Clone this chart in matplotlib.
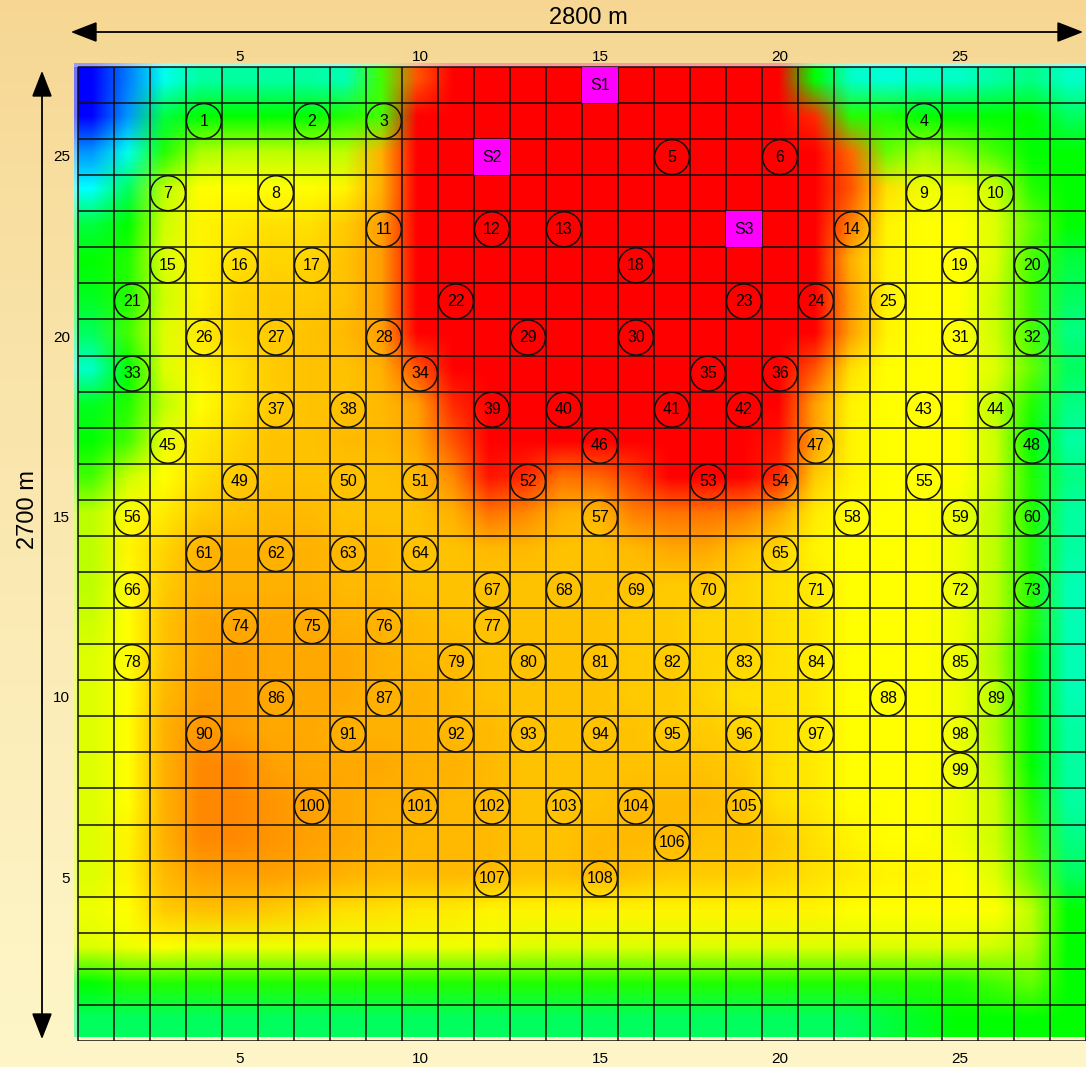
import numpy as np
import matplotlib
matplotlib.use("Agg")
import matplotlib.pyplot as plt
from matplotlib.colors import LinearSegmentedColormap, Normalize, to_rgb
from matplotlib.patches import Circle, Rectangle, FancyArrowPatch

plt.rcParams['font.family'] = ['Liberation Sans', 'DejaVu Sans']

# level read off the colour of each 100 m cell, top row (27) first, columns 1..28
# 0 blue, 1 cyan, 2 green, 3 yellow, 4 orange, 5 red
field_rows = [
    [0.0, 0.5, 1.1, 1.5, 1.5, 1.5, 1.5, 1.4, 2.2, 4.6, 5, 5, 5, 5, 5, 5, 5, 5, 5, 5.0, 2.0, 1.3, 1.2, 1.3, 1.3, 1.5, 1.6, 1.3],
    [0.0, 0.6, 1.8, 2.0, 2.0, 2.0, 2.0, 2.1, 2.2, 5, 5, 5, 5, 5, 5, 5, 5, 5, 5, 5, 4.8, 2.1, 2.1, 2.0, 2.0, 2.0, 2.0, 1.7],
    [0.6, 1.1, 2.1, 2.5, 2.6, 2.6, 2.6, 2.6, 3.8, 5, 5, 5, 5, 5, 5, 5, 5, 5, 5, 5, 5, 4.5, 2.3, 2.5, 2.4, 2.2, 2.0, 2.0],
    [1.0, 1.7, 2.6, 3.0, 3.0, 3.0, 3.0, 3.1, 3.8, 5, 5, 5, 5, 5, 5, 5, 5, 5, 5, 5, 5, 4.6, 3.3, 2.9, 2.9, 2.7, 2.1, 2.0],
    [1.8, 2.0, 2.7, 3.1, 3.2, 3.3, 3.3, 3.5, 4.0, 5, 5, 5, 5, 5, 5, 5, 5, 5, 5, 5, 5, 4.3, 3.1, 3.0, 3.0, 2.8, 2.3, 2.0],
    [2.0, 2.1, 2.8, 3.1, 3.3, 3.4, 3.4, 3.6, 4.0, 5, 5, 5, 5, 5, 5, 5, 5, 5, 5, 5, 5, 3.8, 3.1, 3.0, 3.0, 2.8, 2.2, 1.8],
    [1.9, 2.1, 2.7, 3.1, 3.4, 3.5, 3.5, 3.6, 4.0, 5, 5, 5, 5, 5, 5, 5, 5, 5, 5, 5, 5, 4.0, 3.1, 3.0, 3.0, 2.7, 2.2, 1.7],
    [1.7, 2.2, 2.8, 3.2, 3.4, 3.5, 3.6, 3.7, 4.0, 5, 5, 5, 5, 5, 5, 5, 5, 5, 5, 5, 5, 4.0, 3.1, 3.0, 3.0, 2.7, 2.2, 1.6],
    [1.3, 2.0, 2.8, 3.1, 3.3, 3.5, 3.6, 3.6, 3.8, 4.6, 5, 5, 5, 5, 5, 5, 5, 5, 5, 5, 4.6, 3.3, 3.0, 3.0, 3.0, 2.8, 2.3, 1.7],
    [1.9, 2.1, 2.6, 3.0, 3.3, 3.5, 3.6, 3.6, 3.7, 4.0, 4.8, 5, 5, 5, 5, 5, 5, 5, 5, 5, 4.0, 3.1, 3.0, 3.0, 3.0, 2.6, 2.1, 1.6],
    [2.0, 2.2, 2.9, 3.2, 3.4, 3.6, 3.6, 3.7, 3.7, 3.9, 4.6, 5, 5, 5, 5, 5, 5, 5, 5, 4.9, 4.0, 3.1, 3.0, 3.0, 3.0, 2.7, 2.0, 1.5],
    [2.2, 2.7, 3.0, 3.3, 3.5, 3.6, 3.6, 3.6, 3.6, 3.7, 4.2, 4.9, 4.8, 4.4, 4.5, 4.7, 5, 5, 5, 4.8, 3.5, 3.1, 3.0, 3.0, 3.0, 2.7, 2.1, 1.6],
    [2.6, 3.0, 3.2, 3.5, 3.6, 3.7, 3.7, 3.6, 3.6, 3.6, 3.8, 4.4, 4.2, 3.8, 3.7, 4.3, 4.4, 4.4, 4.3, 3.9, 3.2, 3.0, 3.0, 3.0, 2.9, 2.6, 2.1, 1.5],
    [2.6, 3.1, 3.4, 3.8, 3.8, 3.8, 3.8, 3.7, 3.7, 3.6, 3.6, 3.7, 3.7, 3.6, 3.6, 3.7, 3.9, 3.9, 3.6, 3.4, 3.1, 3.0, 3.0, 3.0, 2.9, 2.6, 2.1, 1.5],
    [2.6, 3.0, 3.5, 3.8, 3.8, 3.8, 3.8, 3.7, 3.7, 3.6, 3.6, 3.6, 3.6, 3.6, 3.6, 3.6, 3.5, 3.5, 3.4, 3.3, 3.2, 3.0, 3.0, 3.0, 2.9, 2.6, 2.1, 1.4],
    [2.7, 3.0, 3.6, 3.9, 3.9, 3.9, 3.9, 3.8, 3.8, 3.7, 3.6, 3.6, 3.6, 3.6, 3.6, 3.5, 3.5, 3.4, 3.4, 3.3, 3.2, 3.0, 3.0, 3.0, 2.9, 2.6, 2.1, 1.4],
    [2.8, 3.0, 3.6, 3.9, 4.0, 3.9, 3.9, 3.9, 3.8, 3.7, 3.7, 3.6, 3.6, 3.6, 3.6, 3.5, 3.5, 3.4, 3.4, 3.3, 3.2, 3.0, 3.0, 3.0, 2.9, 2.5, 2.0, 1.4],
    [2.8, 3.0, 3.7, 4.0, 4.0, 3.9, 3.9, 3.9, 3.8, 3.8, 3.7, 3.6, 3.6, 3.6, 3.6, 3.5, 3.5, 3.4, 3.3, 3.3, 3.2, 3.0, 3.0, 3.0, 2.9, 2.6, 2.0, 1.4],
    [2.8, 3.0, 3.8, 4.1, 4.0, 3.9, 3.9, 3.8, 3.8, 3.8, 3.7, 3.7, 3.6, 3.6, 3.6, 3.6, 3.5, 3.5, 3.4, 3.3, 3.2, 3.0, 3.0, 3.0, 2.9, 2.5, 2.0, 1.5],
    [2.8, 3.0, 3.8, 4.2, 4.2, 4.0, 3.9, 3.9, 3.9, 3.8, 3.8, 3.7, 3.6, 3.6, 3.6, 3.6, 3.6, 3.6, 3.5, 3.3, 3.2, 3.0, 3.0, 3.0, 2.9, 2.6, 2.0, 1.5],
    [2.8, 3.0, 3.8, 4.2, 4.2, 4.1, 4.0, 3.9, 3.8, 3.8, 3.7, 3.7, 3.6, 3.6, 3.6, 3.7, 3.7, 3.7, 3.6, 3.3, 3.2, 3.0, 3.0, 3.0, 2.9, 2.7, 2.1, 1.5],
    [2.8, 3.1, 3.8, 4.2, 4.2, 4.1, 4.0, 3.9, 3.8, 3.7, 3.7, 3.7, 3.6, 3.6, 3.7, 3.7, 3.7, 3.6, 3.6, 3.5, 3.3, 3.1, 3.0, 3.0, 2.9, 2.7, 2.2, 1.6],
    [2.8, 3.1, 3.7, 4.0, 4.0, 4.0, 3.9, 3.8, 3.7, 3.7, 3.7, 3.7, 3.6, 3.6, 3.7, 3.6, 3.5, 3.5, 3.5, 3.4, 3.3, 3.2, 3.1, 3.1, 3.0, 2.8, 2.3, 1.7],
    [2.9, 3.0, 3.5, 3.6, 3.6, 3.5, 3.4, 3.3, 3.3, 3.2, 3.2, 3.1, 3.1, 3.1, 3.1, 3.1, 3.1, 3.1, 3.1, 3.1, 3.1, 3.0, 3.0, 3.0, 3.0, 3.0, 2.6, 2.0],
    [2.8, 2.9, 3.0, 2.9, 2.9, 2.9, 2.9, 2.9, 2.9, 2.9, 2.9, 2.9, 2.8, 2.8, 2.8, 2.8, 2.8, 2.8, 2.8, 2.8, 2.8, 2.8, 2.8, 2.8, 2.8, 2.7, 2.5, 2.0],
    [2.0, 2.1, 2.1, 2.1, 2.1, 2.1, 2.1, 2.1, 2.1, 2.1, 2.1, 2.1, 2.1, 2.1, 2.1, 2.1, 2.1, 2.1, 2.1, 2.1, 2.1, 2.1, 2.1, 2.1, 2.1, 2.2, 2.3, 2.0],
    [1.7, 1.7, 1.7, 1.7, 1.7, 1.7, 1.7, 1.7, 1.7, 1.7, 1.7, 1.7, 1.7, 1.7, 1.7, 1.7, 1.7, 1.7, 1.7, 1.7, 1.7, 1.7, 1.8, 1.9, 2.0, 2.0, 2.0, 2.0],
]

# monitoring points 1..108 (cell column, cell row)
well_cols = [4, 7, 9, 24, 17, 20, 3, 6, 24, 26, 9, 12, 14, 22, 3, 5, 7, 16, 25, 27,
             2, 11, 19, 21, 23, 4, 6, 9, 13, 16, 25, 27, 2, 10, 18, 20,
             6, 8, 12, 14, 17, 19, 24, 26, 3, 15, 21, 27, 5, 8, 10, 13, 18, 20, 24,
             2, 15, 22, 25, 27, 4, 6, 8, 10, 20, 2, 12, 14, 16, 18, 21, 25, 27,
             5, 7, 9, 12, 2, 11, 13, 15, 17, 19, 21, 25, 6, 9, 23, 26,
             4, 8, 11, 13, 15, 17, 19, 21, 25, 25, 7, 10, 12, 14, 16, 19, 17, 12, 15]
well_rows = [26, 26, 26, 26, 25, 25, 24, 24, 24, 24, 23, 23, 23, 23, 22, 22, 22, 22, 22, 22,
             21, 21, 21, 21, 21, 20, 20, 20, 20, 20, 20, 20, 19, 19, 19, 19,
             18, 18, 18, 18, 18, 18, 18, 18, 17, 17, 17, 17, 16, 16, 16, 16, 16, 16, 16,
             15, 15, 15, 15, 15, 14, 14, 14, 14, 14, 13, 13, 13, 13, 13, 13, 13, 13,
             12, 12, 12, 12, 11, 11, 11, 11, 11, 11, 11, 11, 10, 10, 10, 10,
             9, 9, 9, 9, 9, 9, 9, 9, 9, 8, 7, 7, 7, 7, 7, 7, 6, 5, 5]

src_names = ['S1', 'S2', 'S3']
src_cols = [15, 12, 19]
src_rows = [27, 25, 23]

x_ticks = [5, 10, 15, 20, 25]
y_ticks = [5, 10, 15, 20, 25]
n_cols, n_rows = 28, 27

level_stops = [0, 1, 1.5, 2, 2.5, 3, 3.5, 4, 4.5, 5]
level_colors = ['#0000ff', '#00ffff', '#00ffa0', '#00ff00', '#aaff00',
                '#ffff00', '#ffcc00', '#ffa000', '#ff6a00', '#ff0000']
cmap = LinearSegmentedColormap.from_list(
    'plume', [(v / 5.0, c) for v, c in zip(level_stops, level_colors)])

W, H = 1086, 1067
fig = plt.figure(figsize=(W / 100, H / 100), dpi=100)

# map-like tan background
bg = fig.add_axes([0, 0, 1, 1], zorder=0)
t = np.linspace(0, 1, 300) ** 0.8
top, bot = np.array(to_rgb('#f6d692')), np.array(to_rgb('#fef6c8'))
grad = top[None, :] * (1 - t[:, None]) + bot[None, :] * t[:, None]
bg.imshow(grad[:, None, :], aspect='auto', extent=[0, 1, 0, 1])
bg.set_xlim(0, 1)
bg.set_ylim(0, 1)
bg.axis('off')

# main grid axes, pixel placement from the reference
x0, x1 = 0.39, 28.5
y0, y1 = 0.5, 27.61
left, right = 74, 1086
top_px, bot_px = 63, 1041
ax = fig.add_axes([left / W, (H - bot_px) / H, (right - left) / W, (bot_px - top_px) / H], zorder=1)
ax.patch.set_alpha(0)
ax.set_xlim(x0, x1)
ax.set_ylim(y0, y1)
for s in ax.spines.values():
    s.set_visible(False)
ax.set_xticks([])
ax.set_yticks([])

field = np.array(field_rows, dtype=float)
rgba = cmap(Normalize(0, 5)(field))
ax.imshow(rgba, extent=[0.39, 28.5, 0.61, 27.61], origin='upper',
          interpolation='bilinear', aspect='auto', zorder=1)

# whitish frame at top and left of the image
ax.add_patch(Rectangle((0.39, 27.5), 28.2, 0.12, color='white', alpha=0.6, lw=0, zorder=2))
ax.add_patch(Rectangle((0.39, 0.61), 0.11, 26.9, color='white', alpha=0.45, lw=0, zorder=2))

# grid lines
ax.vlines(np.arange(0.5, n_cols + 1), 0.5, n_rows + 0.5, colors='#111111', lw=1.1, zorder=3)
ax.hlines(np.arange(0.5, n_rows + 1), 0.5, n_cols + 0.5, colors='#111111', lw=1.1, zorder=3)

for name, c, r in zip(src_names, src_cols, src_rows):
    ax.add_patch(Rectangle((c - 0.5, r - 0.5), 1, 1, facecolor='#ff00ff', edgecolor='none', zorder=4))
    ax.text(c, r, name, ha='center', va='center', fontsize=11.5, zorder=5)

for i, (c, r) in enumerate(zip(well_cols, well_rows)):
    ax.add_patch(Circle((c, r), 0.485, facecolor='none', edgecolor='#111111', lw=1.1, zorder=4))
    ax.text(c, r, str(i + 1), ha='center', va='center', fontsize=11.5, zorder=5)

# tick labels: top, bottom and left
for v in x_ticks:
    ax.annotate(str(v), xy=(v, 1), xycoords=('data', 'axes fraction'), xytext=(0, 4),
                textcoords='offset points', ha='center', va='center', fontsize=11)
    ax.annotate(str(v), xy=(v, 0), xycoords=('data', 'axes fraction'), xytext=(0, -13),
                textcoords='offset points', ha='center', va='center', fontsize=11)
for v in y_ticks:
    ax.annotate(str(v), xy=(0, v), xycoords=('axes fraction', 'data'), xytext=(-3, 0),
                textcoords='offset points', ha='right', va='center', fontsize=11)

# dimension arrows
fig.add_artist(FancyArrowPatch((68 / W, 1 - 32 / H), (1.0, 1 - 32 / H), transform=fig.transFigure,
                               arrowstyle='<|-|>,head_length=0.9,head_width=0.35',
                               mutation_scale=18, color='black', lw=1.3, zorder=6))
fig.add_artist(FancyArrowPatch((42 / W, 1 - 68 / H), (42 / W, 1 - 1042 / H), transform=fig.transFigure,
                               arrowstyle='<|-|>,head_length=0.9,head_width=0.35',
                               mutation_scale=18, color='black', lw=1.3, zorder=6))
fig.text(588 / W, 1 - 18 / H, '2800 m', ha='center', va='center', fontsize=17, zorder=6)
fig.text(28 / W, 1 - 510 / H, '2700 m', ha='center', va='center', rotation=90, fontsize=17, zorder=6)

fig.savefig('out.png', dpi=100)
